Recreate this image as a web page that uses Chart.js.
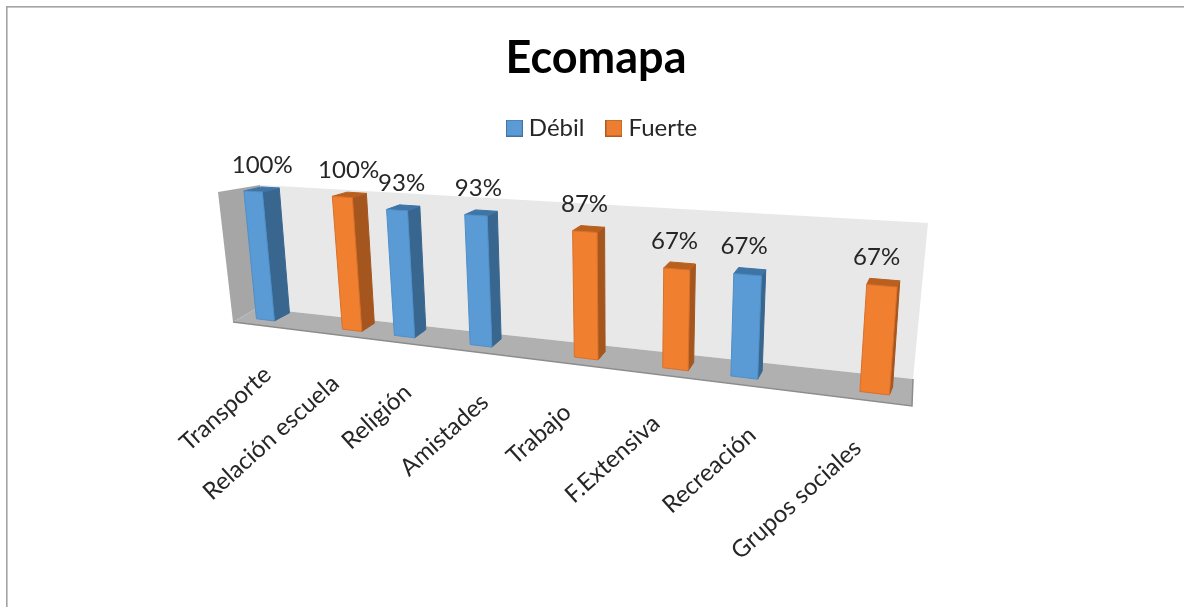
<!DOCTYPE html>
<html><head><meta charset="utf-8">
<style>html,body{margin:0;padding:0;background:#fff}canvas{display:block;filter:blur(0.4px)}</style>
<script src="https://cdn.jsdelivr.net/npm/chart.js@4"></script>
</head><body>
<canvas id="c" width="1184" height="607"></canvas>
<script>
const categories = ["Transporte","Relación escuela","Religión","Amistades","Trabajo","F.Extensiva","Recreación","Grupos sociales"];
const debil  = [100,null,93,93,null,null,67,null];
const fuerte = [null,100,null,null,87,67,null,67];
const TEXT = "#262626";
const FONT = "Lato, 'Open Sans', sans-serif";

// unit square -> quad [bottom-left, bottom-right, top-right, top-left]
function homography(q){
  const [[x0,y0],[x1,y1],[x2,y2],[x3,y3]] = q;
  const dx1=x1-x2,dx2=x3-x2,sx=x0-x1+x2-x3,dy1=y1-y2,dy2=y3-y2,sy=y0-y1+y2-y3;
  const den=dx1*dy2-dx2*dy1,g=(sx*dy2-dx2*sy)/den,h=(dx1*sy-sx*dy1)/den;
  const a=x1-x0+g*x1,b=x3-x0+h*x3,d=y1-y0+g*y1,e=y3-y0+h*y3;
  return (u,v)=>{const w=g*u+h*v+1;return [(a*u+b*v+x0)/w,(d*u+e*v+y0)/w];};
}
const frontPlane = homography([[242,317],[914,398],[927,233],[229,190]]);
const backPlane  = homography([[258,309],[917,390],[929,228],[247,186]]);

function poly(ctx,pts,fill,stroke){
  ctx.beginPath();pts.forEach((p,i)=>i?ctx.lineTo(p[0],p[1]):ctx.moveTo(p[0],p[1]));ctx.closePath();
  if(fill){ctx.fillStyle=fill;ctx.fill();}
  if(stroke){ctx.strokeStyle=stroke;ctx.lineWidth=1;ctx.stroke();}
}
function legendSwatch(fill,stroke){
  const cv=document.createElement("canvas");cv.width=17;cv.height=17;
  const g=cv.getContext("2d");g.fillStyle=fill;g.fillRect(0,0,17,17);
  g.strokeStyle=stroke;g.lineWidth=1;g.strokeRect(.5,.5,16,16);
  return cv;
}
const swatches=[legendSwatch("#5b9bd5","#41719c"),legendSwatch("#ed7d31","#ae5a21")];
const shades = {
  "Débil":  {front:"#5b9bd5",edge:"#4f8fc8",side:"#39668f",top:"#3f74a6"},
  "Fuerte": {front:"#f07f30",edge:"#d9702a",side:"#a5561e",top:"#b9601f"}
};
const perspective3d = {
  id:"perspective3d",
  afterLayout(chart){ chart.legend.left+=8.5; chart.legend.right+=8.5; },
  beforeDraw(chart){
    const ctx=chart.ctx;
    ctx.save();
    ctx.fillStyle="#a3a3a3";ctx.fillRect(6,6,1178,1.6);ctx.fillRect(6,6,1.6,601);
    poly(ctx,[[260,185],[928,223],[913,379],[257,308]],"#e8e8e8");
    poly(ctx,[[218,192],[260,185],[257,308],[233,322]],"#a6a6a6");
    poly(ctx,[[233,322],[257,308],[913,379],[912,406]],"#b0b0b0");
    ctx.strokeStyle="#8c8c8c";ctx.lineWidth=1.5;
    ctx.beginPath();ctx.moveTo(233,322);ctx.lineTo(912,406);ctx.lineTo(913,379);ctx.stroke();
    ctx.restore();
  },
  beforeDatasetDraw(chart,args){
    const ctx=chart.ctx,a=chart.chartArea;
    const U=x=>(x-a.left)/(a.right-a.left), V=y=>(a.bottom-y)/(a.bottom-a.top);
    const ds=chart.data.datasets[args.index],s=shades[ds.label];
    ctx.save();
    args.meta.data.forEach((el,i)=>{
      if(ds.data[i]==null) return;
      const l=U(el.x-el.width/2),r=U(el.x+el.width/2),t=V(el.y),b=V(el.base);
      const fBL=frontPlane(l,b),fBR=frontPlane(r,b),fTR=frontPlane(r,t),fTL=frontPlane(l,t);
      const bBR=backPlane(r,b),bTR=backPlane(r,t),bTL=backPlane(l,t);
      poly(ctx,[fBR,bBR,bTR,fTR],s.side,s.side);
      poly(ctx,[fTL,fTR,bTR,bTL],s.top,s.top);
      poly(ctx,[fBL,fBR,fTR,fTL],s.front,s.edge);
    });
    ctx.restore();
    return false;
  },
  afterDatasetsDraw(chart){
    const ctx=chart.ctx,a=chart.chartArea;
    const U=x=>(x-a.left)/(a.right-a.left), V=y=>(a.bottom-y)/(a.bottom-a.top);
    ctx.save();
    ctx.fillStyle=TEXT;ctx.font="24px "+FONT;ctx.textAlign="center";ctx.textBaseline="middle";
    chart.data.datasets.forEach((ds,di)=>{
      chart.getDatasetMeta(di).data.forEach((el,i)=>{
        if(ds.data[i]==null) return;
        const p=backPlane(U(el.x),V(el.y));
        ctx.fillText(ds.data[i]+"%",p[0]-8,p[1]-22);
      });
    });
    const xs=chart.scales.x;
    ctx.font="24px "+FONT;ctx.textAlign="right";
    categories.forEach((c,i)=>{
      const u=U(xs.getPixelForValue(i));
      const p=frontPlane(u,0);
      ctx.save();
      ctx.translate(p[0]-7+8*Math.pow(u,8),p[1]+50+3*u);
      ctx.rotate(-42*Math.PI/180);
      ctx.fillText(c,0,0);
      ctx.restore();
    });
    ctx.restore();
  }
};
new Chart(document.getElementById("c"),{
  type:"bar",
  data:{labels:categories,datasets:[
    {label:"Débil",data:debil,backgroundColor:"#5b9bd5",borderColor:"#41719c",borderWidth:1},
    {label:"Fuerte",data:fuerte,backgroundColor:"#ed7d31",borderColor:"#ae5a21",borderWidth:1}
  ]},
  plugins:[perspective3d],
  options:{
    responsive:false,animation:false,
    layout:{padding:{left:8,right:0,top:0,bottom:120}},
    categoryPercentage:0.55,barPercentage:1,
    plugins:{
      tooltip:{enabled:false},
      title:{display:true,text:"Ecomapa",color:"#000",font:{family:FONT,size:45,weight:"bold"},padding:{top:31,bottom:4}},
      legend:{position:"top",labels:{color:TEXT,font:{family:FONT,size:24},usePointStyle:true,pointStyleWidth:5,padding:27,
        generateLabels(chart){
          return Chart.defaults.plugins.legend.labels.generateLabels(chart).map((it,i)=>({...it,pointStyle:swatches[i]}));
        }}}
    },
    scales:{
      x:{display:false,grid:{display:false}},
      y:{display:false,min:0,max:100,grid:{display:false}}
    }
  }
});
</script>
</body></html>
